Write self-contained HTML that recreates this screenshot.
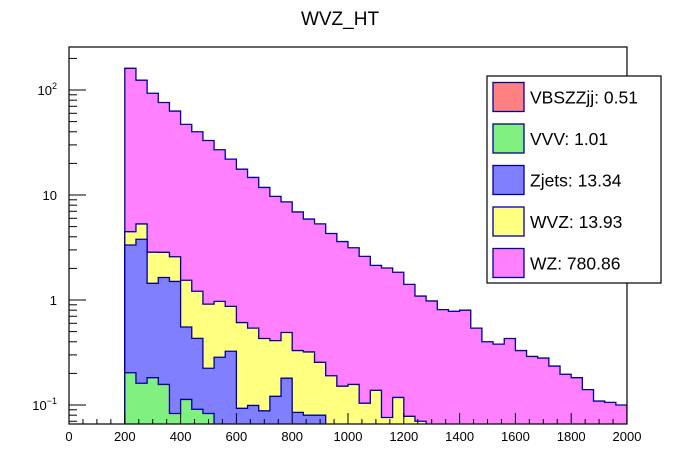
<!DOCTYPE html>
<html><head><meta charset="utf-8"><style>
body{margin:0;background:#fff}
svg{display:block;font-family:"Liberation Sans",sans-serif}
</style></head><body>
<svg id="c" width="696" height="472" viewBox="0 0 696 472" xmlns="http://www.w3.org/2000/svg">
<defs>
<clipPath id="clip"><rect x="69" y="47" width="558" height="377"/></clipPath>
</defs>
<text x="340" y="25" text-anchor="middle" font-size="19">WVZ_HT</text>
<g id="bars" clip-path="url(#clip)"></g>
<rect x="69" y="47" width="558" height="377" fill="none" stroke="#000" stroke-width="1.2"/>
<g id="axes"></g>
<g id="legend"></g>
</svg>
<script>
const binStart = 200;
const binWidth = 40;
const seriesNames = ["VBSZZjj","VVV","Zjets","WVZ","WZ"];
const legendLabels = ["VBSZZjj: 0.51","VVV: 1.01","Zjets: 13.34","WVZ: 13.93","WZ: 780.86"];
const vbsValues = [0,0,0,0,0,0,0,0,0,0,0,0,0,0,0,0,0,0,0,0,0,0,0,0,0,0,0,0,0,0,0,0,0,0,0,0,0,0,0,0,0,0,0,0,0];
const vvvValues = [0.203,0.161,0.182,0.157,0.083,0.113,0.091,0.083,0,0,0,0,0,0,0,0,0,0,0,0,0,0,0,0,0,0,0,0,0,0,0,0,0,0,0,0,0,0,0,0,0,0,0,0,0];
const zjetsValues = [3.14,3.63,1.26,1.48,1.42,0.44,0.34,0.141,0.285,0.325,0.093,0.099,0.088,0.121,0.18,0.085,0.08,0.08,0,0,0,0,0,0,0,0,0,0,0,0,0,0,0,0,0,0,0,0,0,0,0,0,0,0,0];
const wvzValues = [1.13,1.51,1.41,1.21,1.08,0.99,0.78,0.69,0.685,0.545,0.517,0.441,0.342,0.289,0.31,0.245,0.24,0.175,0.19,0.151,0.157,0.104,0.138,0.076,0.118,0.078,0.07,0,0,0,0,0,0,0,0,0,0,0,0,0,0,0,0,0,0];
const wzValues = [156.5,118.7,90.2,73.2,60.4,45.5,38.8,32.1,26.0,21.1,17.0,14.16,11.37,9.29,8.11,6.57,5.58,5.05,4.11,3.45,2.99,2.50,2.00,1.94,1.72,1.33,1.02,0.98,0.81,0.78,0.80,0.54,0.40,0.38,0.43,0.33,0.29,0.28,0.235,0.196,0.182,0.14,0.109,0.106,0.10];
const xTicks = [0,200,400,600,800,1000,1200,1400,1600,1800,2000];
const yTickLabels = ["10<tspan dy='-6' font-size='9'>2</tspan>","10","1","10<tspan dy='-6' font-size='9'>−1</tspan>"];
const yTickValues = [100,10,1,0.1];

const NS="http://www.w3.org/2000/svg";
const X0=69,X1=627,Y0=424,Y1=47;
function xs(v){return X0+(v/2000)*(X1-X0);}
function ys(v){if(v<=0) return Y0+5;return Math.min(Y0+5,300-105*Math.log10(v));}
function mk(tag,attrs,parent){const e=document.createElementNS(NS,tag);for(const k in attrs)e.setAttribute(k,attrs[k]);parent.appendChild(e);return e;}

const all=[vbsValues,vvvValues,zjetsValues,wvzValues,wzValues];
const fills=["#ff8080","#80f080","#8080ff","#ffff80","#ff80ff"];
const cum=[];let run=new Array(wzValues.length).fill(0);
for(let s=0;s<all.length;s++){run=run.map((r,i)=>r+all[s][i]);cum.push(run.slice());}
const bars=document.getElementById('bars');
for(let s=all.length-1;s>=0;s--){
  const c=cum[s];const n=c.length;
  let d="M"+xs(binStart)+","+(Y0+5);
  for(let i=0;i<n;i++){const xa=xs(binStart+i*binWidth),xb=xs(binStart+(i+1)*binWidth),y=ys(c[i]);d+=" L"+xa+","+y+" L"+xb+","+y;}
  d+=" L"+xs(binStart+n*binWidth)+","+(Y0+5)+" Z";
  const p=mk('path',{d:d,fill:fills[s],stroke:"#000099","stroke-width":"1.3"},bars);
  
  
}
const axes=document.getElementById('axes');


for(let v=0;v<=2000;v+=50){
  const maj=v%200===0;
  mk('line',{x1:xs(v),x2:xs(v),y1:Y0,y2:Y0-(maj?11:5),stroke:"#000","stroke-width":"1"},axes);
}
xTicks.forEach(v=>{
  const t=mk('text',{x:xs(v),y:Y0+17,"text-anchor":"middle","font-size":"13"},axes);
  t.textContent=v;
  
  
});
for(let e=-2;e<=2;e++){
  for(let m=1;m<10;m++){
    const v=m*Math.pow(10,e);const y=ys(v);
    if(y<Y1||y>Y0)continue;
    mk('line',{x1:X0,x2:X0+(m===1?17:8),y1:y,y2:y,stroke:"#000","stroke-width":"1"},axes);
  }
}
yTickValues.forEach((v,i)=>{
  const t=mk('text',{x:57,y:ys(v)+5,"text-anchor":"end","font-size":"13"},axes);
  t.innerHTML=yTickLabels[i];
  
  
});
const lg=document.getElementById('legend');
mk('rect',{x:487,y:76,width:174,height:207,fill:"#fff",stroke:"#000","stroke-width":"1.2"},lg);
for(let i=0;i<5;i++){
  const cy=97+i*41.5;
  const r=mk('rect',{x:493,y:cy-14.5,width:31,height:29,fill:fills[i],stroke:"#000099","stroke-width":"1.3"},lg);
  
  
  const t=mk('text',{x:530,y:cy+6.5,"font-size":"17.5"},lg);
  t.textContent=legendLabels[i];
  
  
}
</script>
</body></html>
